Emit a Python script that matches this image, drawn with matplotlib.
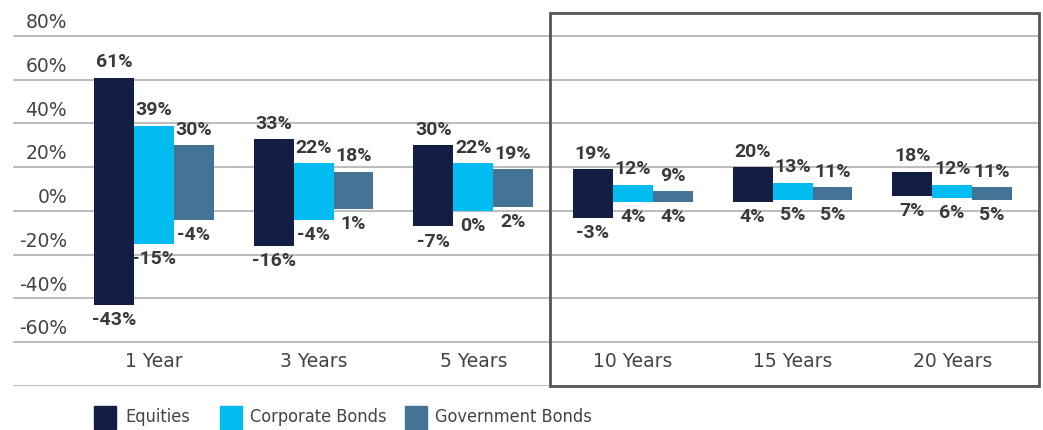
import matplotlib.pyplot as plt
from matplotlib.patches import Rectangle
import numpy as np

categories = ["1 Year", "3 Years", "5 Years", "10 Years", "15 Years", "20 Years"]
series = ["Equities", "Corporate Bonds", "Government Bonds"]
colors = ["#131e45", "#00bcf0", "#447396"]

# high / low rolling returns (%) per series
equities_hi = [61, 33, 30, 19, 20, 18]
equities_lo = [-43, -16, -7, -3, 4, 7]
corporate_hi = [39, 22, 22, 12, 13, 12]
corporate_lo = [-15, -4, 0, 4, 5, 6]
government_hi = [30, 18, 19, 9, 11, 11]
government_lo = [-4, 1, 2, 4, 5, 5]

yticks = [80, 60, 40, 20, 0, -20, -40, -60]

highs = [equities_hi, corporate_hi, government_hi]
lows = [equities_lo, corporate_lo, government_lo]

plt.rcParams["font.family"] = ["DejaVu Sans"]
TXT = "#3a3a3a"
LBL_FONT = ["Roboto", "DejaVu Sans"]

fig = plt.figure(figsize=(10.43, 4.30), dpi=100)
ax = fig.add_axes([13 / 1043, 1 - 386 / 430, 1027 / 1043, 373 / 430])
ax.set_xlim(-0.883, 5.55)
ax.set_ylim(-80, 90.5)
ax.axis("off")

# gridlines + tick labels sitting above the lines
for v in yticks + [-80]:
    ax.axhline(v, color="#bdbdbd", lw=1.5, zorder=0)
for v in yticks:
    ax.text(0.0526, v + 1.8, f"{v}%", transform=ax.get_yaxis_transform(),
            ha="right", va="bottom", fontsize=13.5, color="#444444")

x = np.arange(len(categories))
w = 0.25
for i, (hi, lo, c) in enumerate(zip(highs, lows, colors)):
    xs = x + (i - 1) * w
    hi = np.array(hi)
    lo = np.array(lo)
    ax.bar(xs, hi - lo, bottom=lo, width=w, color=c, zorder=2, label=series[i])
    for xx, h, l in zip(xs, hi, lo):
        ax.annotate(f"{h}%", (xx, h), xytext=(0, 4.5), textcoords="offset points",
                    ha="center", va="bottom", fontsize=14, fontweight="bold",
                    family=LBL_FONT, color=TXT)
        ax.annotate(f"{l}%", (xx, l), xytext=(0, -4.5), textcoords="offset points",
                    ha="center", va="top", fontsize=14, fontweight="bold",
                    family=LBL_FONT, color=TXT)

for xx, cat in zip(x, categories):
    ax.text(xx, -69, cat, ha="center", va="center", fontsize=13.5, color="#444444")

# highlight box around the long-horizon groups
ax.add_patch(Rectangle((2.48, -80), 5.545 - 2.48, 170.5, fill=False,
                       edgecolor="#555555", lw=2, clip_on=False, zorder=3))

# legend drawn manually along the bottom
sq_x = [94, 220, 405]
txt_x = [125, 250, 435]
for sx, tx, c, name in zip(sq_x, txt_x, colors, series):
    fig.patches.append(Rectangle((sx / 1043, 1 - 429 / 430), 22 / 1043, 23 / 430,
                                 transform=fig.transFigure, color=c))
    fig.text(tx / 1043, 1 - 417 / 430, name, family="DejaVu Sans",
             fontstretch="condensed", fontsize=13,
             ha="left", va="center", color="#444444")

fig.savefig("out.png", dpi=100)
